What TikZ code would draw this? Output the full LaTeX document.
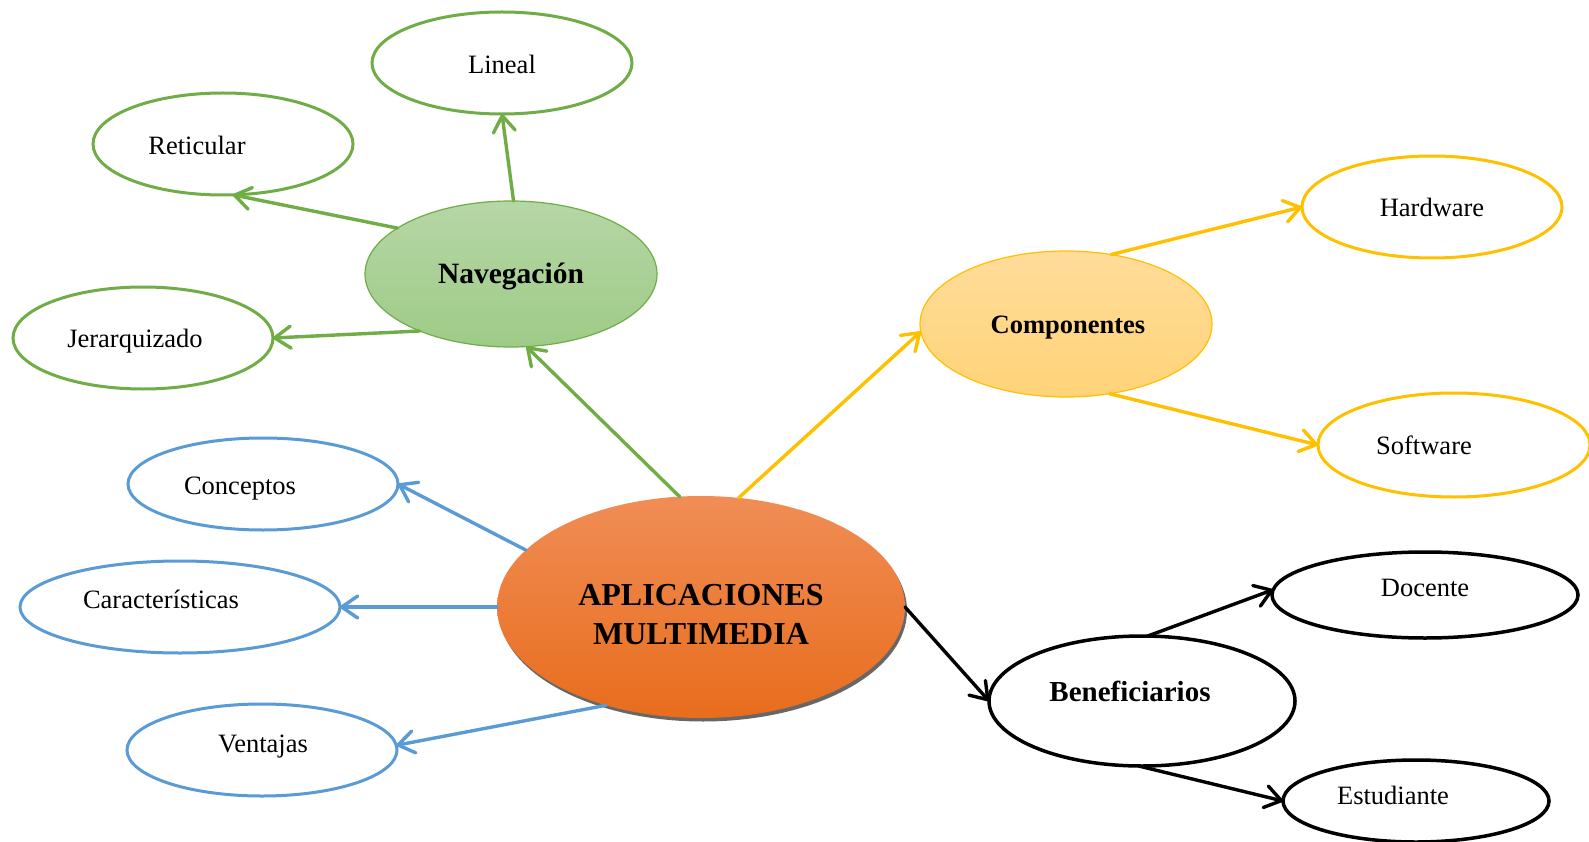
\documentclass[tikz,border=0pt]{standalone}
\usepackage{fontspec}
\setmainfont{Liberation Serif}
\usetikzlibrary{arrows.meta,shapes.geometric,shadows}

\definecolor{navline}{HTML}{70AD47}
\definecolor{navtop}{HTML}{B6D6A6}
\definecolor{navbot}{HTML}{9ECB87}
\definecolor{compline}{HTML}{FFC000}
\definecolor{comptop}{HTML}{FFDC9A}
\definecolor{compbot}{HTML}{FFD378}
\definecolor{blueline}{HTML}{5B9BD5}
\definecolor{ortop}{HTML}{F08D56}
\definecolor{ormid}{HTML}{F48030}
\definecolor{orbot}{HTML}{E86D1C}
\definecolor{shadowgray}{HTML}{676767}

\tikzset{
  bubble/.style={ellipse, inner sep=0pt, outer sep=0pt},
  esize/.style n args={2}{minimum width=#1pt, minimum height=#2pt},
  leaf/.style={bubble, draw=#1, line width=3pt, fill=white},
  txt/.style={inner sep=0pt, font=\fontsize{26.5}{30}\selectfont},
  head/.style={inner sep=0pt, font=\bfseries\fontsize{#1}{32}\selectfont},
  conn/.style={draw=#1, line width=3.4pt, line cap=round,
    -{Straight Barb[length=16pt, width=22pt, round]}},
}

\begin{document}
\begin{tikzpicture}[x=1pt, y=-1pt]
  \fill[white] (0,0) rectangle (1589,842);
  \useasboundingbox (0,0) rectangle (1589,842);

  % central topic
  \node[bubble, esize={408}{222}, top color=ortop, middle color=ormid,
        bottom color=orbot,
        general shadow={fill=shadowgray, shadow xshift=2pt, shadow yshift=-3.5pt}]
        (app) at (701,607) {};
  \node[inner sep=0pt, align=center, font=\bfseries\fontsize{32}{39}\selectfont]
        (t-app) at (701,615) {APLICACIONES\\MULTIMEDIA};

  % main branches
  \node[bubble, esize={292}{146}, draw=navline, line width=1.2pt,
        top color=navtop, bottom color=navbot] (nav) at (511,274) {};
  \node[head=29.5] (t-nav) at (511,277) {Navegación};

  \node[bubble, esize={292}{146}, draw=compline, line width=1.2pt,
        top color=comptop, bottom color=compbot] (comp) at (1066,324) {};
  \node[head=26.5] (t-comp) at (1068,328) {Componentes};

  \node[leaf=black, line width=3.5pt, esize={306}{130}] (ben) at (1142,701) {};
  \node[head=29] (t-ben) at (1130,691) {Beneficiarios};

  % navigation leaves
  \node[leaf=navline, esize={260}{102}] (lineal) at (502,63) {};
  \node[txt] (t-lineal) at (502,64) {Lineal};
  \node[leaf=navline, esize={260}{102}] (ret) at (223,144) {};
  \node[txt] (t-ret) at (197,145) {Reticular};
  \node[leaf=navline, esize={260}{102}] (jer) at (143,338) {};
  \node[txt] (t-jer) at (135,341) {Jerarquizado};

  % blue leaves
  \node[leaf=blueline, esize={270}{92}] (conc) at (263,484) {};
  \node[txt] (t-conc) at (240,489) {Conceptos};
  \node[leaf=blueline, esize={320}{92}] (car) at (180,607) {};
  \node[txt] (t-car) at (161,599) {Características};
  \node[leaf=blueline, esize={270}{92}] (vent) at (262,750) {};
  \node[txt] (t-vent) at (263,747) {Ventajas};

  % component leaves
  \node[leaf=compline, esize={260}{102}] (hard) at (1432,207) {};
  \node[txt] (t-hard) at (1432,207) {Hardware};
  \node[leaf=compline, esize={272}{104}] (soft) at (1454,445) {};
  \node[txt] (t-soft) at (1424,445) {Software};

  % beneficiary leaves
  \node[leaf=black, line width=3.5pt, esize={306}{86}] (doc) at (1425,595) {};
  \node[txt] (t-doc) at (1425,588) {Docente};
  \node[leaf=black, line width=3.5pt, esize={266}{82}] (est) at (1416,801) {};
  \node[txt] (t-est) at (1393,795) {Estudiante};

  % connectors
  \draw[conn=navline] (app.101) -- (nav.282);
  \draw[conn=compline] (app.71) -- (comp.183);
  \draw[conn=blueline] (app.162) -- (conc.0);
  \draw[conn=blueline] (app.180) -- (car.0);
  \draw[conn=blueline] (app.226) -- (vent.2);
  \draw[conn=black] (app.0) -- (ben.180);

  \draw[conn=navline] (nav.88) -- (lineal.270);
  \draw[conn=navline] (nav.158) -- (ret.281);
  \draw[conn=navline] (nav.212) -- (jer.0);

  \draw[conn=compline] (comp.57) -- (hard.180);
  \draw[conn=compline] (comp.302) -- (soft.180);

  \draw[conn=black] (ben.85) -- (doc.178);
  \draw[conn=black] (ben.267) -- (est.180);
\end{tikzpicture}
\end{document}
